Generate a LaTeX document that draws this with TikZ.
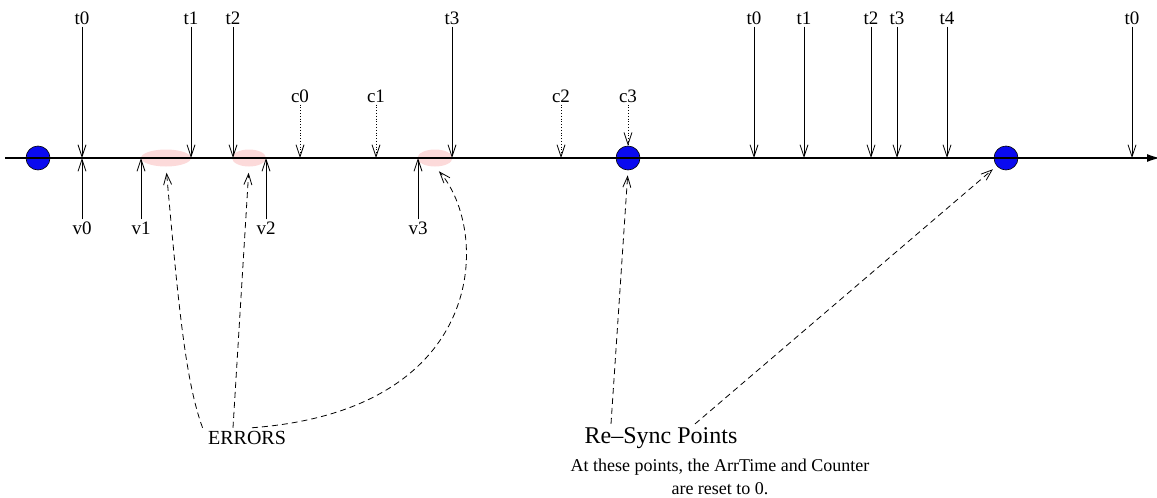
\documentclass[tikz,border=0pt]{standalone}
\usepackage{fontspec}
\setmainfont{Liberation Serif}
\usetikzlibrary{arrows.meta,positioning,shapes.geometric,calc}
\definecolor{errpink}{RGB}{252,218,218}
\definecolor{syncblue}{RGB}{10,10,240}

\begin{document}
\begin{tikzpicture}[x=1pt,y=-1pt,
    lab/.style={font=\fontsize{19}{22}\selectfont,inner sep=2pt},
    tick/.style={line width=0.8pt,-{Straight Barb[length=12pt,width=8pt]}},
    ctick/.style={tick,dotted},
    link/.style={line width=0.8pt,dash pattern=on 6pt off 4pt,-{Straight Barb[length=11pt,width=8pt]}},
    errzone/.style={ellipse,fill=errpink,inner sep=0pt,minimum height=17pt},
    syncpt/.style={circle,draw=black,fill=syncblue,line width=0.6pt,minimum size=24pt,inner sep=0pt}]
    \useasboundingbox (0,0) rectangle (1157,498);

    % error zones and re-sync points under the axis
    \node[errzone,minimum width=50pt] (e1) at (166,158) {};
    \node[errzone,minimum width=34pt] (e2) at (249,158) {};
    \node[errzone,minimum width=35pt] (e3) at (435,158) {};
    \node[syncpt] (s0) at (38,158) {};
    \node[syncpt] (s1) at (628,158) {};
    \node[syncpt] (s2) at (1006,158) {};

    % time axis
    \coordinate (ax0) at (5,158);
    \coordinate (ax1) at (1160,158);
    \draw[line width=1.3pt,-{Latex[length=13pt,width=8pt]}] (ax0) -- (ax1);

    % arrival times t
    \node[lab] (ta0) at (82,18) {t0};
    \node[lab] (ta1) at (191,18) {t1};
    \node[lab] (ta2) at (233,18) {t2};
    \node[lab] (ta3) at (452,18) {t3};
    \node[lab] (tb0) at (754,18) {t0};
    \node[lab] (tb1) at (804,18) {t1};
    \node[lab] (tb2) at (871,18) {t2};
    \node[lab] (tb3) at (897,18) {t3};
    \node[lab] (tb4) at (947,18) {t4};
    \node[lab] (tc0) at (1132,18) {t0};
    \draw[tick] (ta0.south) -- (ta0.south |- ax0);
    \draw[tick] (ta1.south) -- (ta1.south |- ax0);
    \draw[tick] (ta2.south) -- (ta2.south |- ax0);
    \draw[tick] (ta3.south) -- (ta3.south |- ax0);
    \draw[tick] (tb0.south) -- (tb0.south |- ax0);
    \draw[tick] (tb1.south) -- (tb1.south |- ax0);
    \draw[tick] (tb2.south) -- (tb2.south |- ax0);
    \draw[tick] (tb3.south) -- (tb3.south |- ax0);
    \draw[tick] (tb4.south) -- (tb4.south |- ax0);
    \draw[tick] (tc0.south) -- (tc0.south |- ax0);

    % counter ticks c
    \node[lab] (c0) at (300,96) {c0};
    \node[lab] (c1) at (376,96) {c1};
    \node[lab] (c2) at (561,96) {c2};
    \node[lab] (c3) at (628,96) {c3};
    \draw[ctick] (c0.south) -- (c0.south |- ax0);
    \draw[ctick] (c1.south) -- (c1.south |- ax0);
    \draw[ctick] (c2.south) -- (c2.south |- ax0);
    \draw[ctick] (c3.south) -- (s1.north);

    % values v
    \node[lab] (v0) at (82,228) {v0};
    \node[lab] (v1) at (141,228) {v1};
    \node[lab] (v2) at (266,228) {v2};
    \node[lab] (v3) at (418,228) {v3};
    \draw[tick] (v0.north) -- (v0.north |- ax0);
    \draw[tick] (v1.north) -- (v1.north |- ax0);
    \draw[tick] (v2.north) -- (v2.north |- ax0);
    \draw[tick] (v3.north) -- (v3.north |- ax0);

    % captions
    \node[font=\fontsize{20}{22}\selectfont] (err) at (247,438) {ERRORS};
    \node[font=\fontsize{24}{26}\selectfont] (sync) at (661,438) {Re{\textendash}Sync Points};
    \node[font=\fontsize{18}{23}\selectfont,align=center,inner sep=1pt] (note) at (720,477)
        {At these points, the ArrTime and Counter\\are reset to 0.};

    % pointers from captions
    \draw[link,shorten >=6pt] ([xshift=-2pt]err.north west) .. controls (185,380) and (178,300) .. (e1.south);
    \draw[link,shorten >=6pt] ([xshift=-14pt]err.north) -- (e2.south);
    \draw[link,shorten >=6pt] ([xshift=5pt]err.north) .. controls (490,410) and (490,230) .. (e3.south);
    \draw[link,shorten >=5pt] ([xshift=-50pt]sync.north) -- (s1.south);
    \draw[link,shorten >=5pt] ([xshift=34pt]sync.north) -- (s2);
\end{tikzpicture}
\end{document}
